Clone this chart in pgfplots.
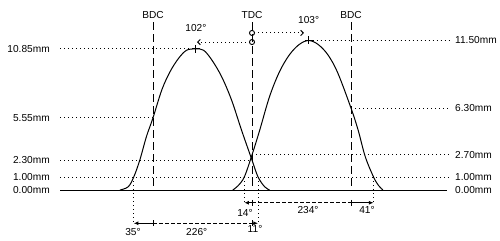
\documentclass[border=0pt]{standalone}
\usepackage{pgfplots}
\pgfplotsset{compat=1.18}
\usepackage{fontspec}
\setmainfont{Liberation Sans}
\usetikzlibrary{arrows.meta}
\begin{document}
\begin{tikzpicture}
\begin{axis}[
  scale only axis, width=375pt, height=180pt,
  xmin=-98.18, xmax=810.91, ymin=-3.846, ymax=14.615,
  hide axis, clip=false,
]
\path (rel axis cs:0,0) rectangle (rel axis cs:1,1);
\tikzset{
  dotl/.style={line width=0.75pt, dash pattern=on 0.75pt off 2.25pt},
  dashl/.style={line width=0.75pt, dash pattern=on 6pt off 3pt},
  diml/.style={line width=0.75pt, dash pattern=on 3pt off 1.5pt},
  lbl/.style={font=\fontsize{7.6}{9}\selectfont, inner sep=0pt},
}
% curves
\addplot[black, line width=0.75pt, smooth, tension=0.55] coordinates {
(120,0) (135,0.25) (145,1.0) (156,2.3) (168,4.1) (180,5.55) (196,7.7) (211,9.1)
(226,10.1) (241,10.75) (258,10.85) (272,10.75) (287,10.0) (305,8.7) (323,6.9)
(341,4.6) (360,2.3) (371,1.0) (383,0.25) (392,0)};
\addplot[black, line width=0.75pt, smooth, tension=0.55] coordinates {
(325,0) (334,0.3) (346,1.0) (360,2.7) (374,4.6) (392,7.2) (410,9.1) (428,10.4)
(446,11.2) (463,11.5) (480,11.2) (498,10.4) (516,9.0) (540,6.3) (553,4.6)
(566,2.55) (581,1.0) (590,0.35) (598,0)};
% peak markers
\addplot[only marks, mark=+, mark size=3pt, black, line width=0.75pt] coordinates {(258,10.85) (463,11.5)};
% circles at TDC
\addplot[only marks, mark=o, mark size=1.9pt, black, line width=0.7pt] coordinates {(360,11.38) (360,12.08)};
% baseline
\draw[line width=0.75pt] (axis cs:11,0) -- (axis cs:715,0);
% horizontal dotted lines
\draw[dotl] (axis cs:11,10.85) -- (axis cs:258,10.85);
\draw[dotl] (axis cs:11,5.55) -- (axis cs:180,5.55);
\draw[dotl] (axis cs:11,2.3) -- (axis cs:360,2.3);
\draw[dotl] (axis cs:11,1) -- (axis cs:720,1);
\draw[dotl] (axis cs:463,11.5) -- (axis cs:720,11.5);
\draw[dotl] (axis cs:540,6.3) -- (axis cs:720,6.3);
\draw[dotl] (axis cs:360,2.7) -- (axis cs:720,2.7);
% dashed verticals
\draw[dashl] (axis cs:180,12.92) -- (axis cs:180,0.3);
\draw[dashl] (axis cs:360,12.92) -- (axis cs:360,0.3);
\draw[dashl] (axis cs:540,12.92) -- (axis cs:540,0.3);
% vertical dotted drops
\draw[dotl] (axis cs:145,1) -- (axis cs:145,-2.56);
\draw[dotl] (axis cs:371,1) -- (axis cs:371,-2.56);
\draw[dotl] (axis cs:346,1) -- (axis cs:346,-0.98);
\draw[dotl] (axis cs:581,1) -- (axis cs:581,-0.98);
% dimension lines
\draw[line width=0.75pt, -{Latex[length=3.5pt,width=3pt]}] (axis cs:360,-0.98) -- (axis cs:346,-0.98);
\draw[diml] (axis cs:360,-0.98) -- (axis cs:540,-0.98);
\draw[line width=0.75pt, -{Latex[length=3.5pt,width=3pt]}] (axis cs:540,-0.98) -- (axis cs:581,-0.98);
\draw[line width=0.75pt, -{Latex[length=3.5pt,width=3pt]}] (axis cs:180,-2.56) -- (axis cs:145,-2.56);
\draw[diml] (axis cs:180,-2.56) -- (axis cs:360,-2.56);
\draw[line width=0.75pt, -{Latex[length=3.5pt,width=3pt]}] (axis cs:360,-2.56) -- (axis cs:371,-2.56);
% ticks on dimension lines
\draw[line width=0.75pt] (axis cs:360,-0.75) -- (axis cs:360,-1.21);
\draw[line width=0.75pt] (axis cs:540,-0.75) -- (axis cs:540,-1.21);
\draw[line width=0.75pt] (axis cs:180,-2.33) -- (axis cs:180,-2.79);
\draw[line width=0.75pt] (axis cs:360,-2.33) -- (axis cs:360,-2.79);
% peak angle arrows
\draw[dotl, -{Straight Barb[length=2pt,width=4pt]}] (axis cs:356,11.38) -- (axis cs:260,11.38);
\draw[dotl, -{Straight Barb[length=2pt,width=4pt]}] (axis cs:364,12.08) -- (axis cs:454.5,12.08);
% labels
\node[lbl] at (axis cs:180,13.46) {BDC};
\node[lbl] at (axis cs:360,13.46) {TDC};
\node[lbl] at (axis cs:540,13.46) {BDC};
\node[lbl] at (axis cs:258,12.46) {102°};
\node[lbl] at (axis cs:463,13.08) {103°};
\node[lbl, anchor=east] at (axis cs:-7.3,10.85) {10.85mm};
\node[lbl, anchor=east] at (axis cs:-7.3,5.55) {5.55mm};
\node[lbl, anchor=east] at (axis cs:-7.3,2.3) {2.30mm};
\node[lbl, anchor=east] at (axis cs:-7.3,1) {1.00mm};
\node[lbl, anchor=east] at (axis cs:-7.3,0) {0.00mm};
\node[lbl, anchor=west] at (axis cs:729,11.5) {11.50mm};
\node[lbl, anchor=west] at (axis cs:729,6.3) {6.30mm};
\node[lbl, anchor=west] at (axis cs:729,2.7) {2.70mm};
\node[lbl, anchor=west] at (axis cs:729,1) {1.00mm};
\node[lbl, anchor=west] at (axis cs:729,0) {0.00mm};
\node[lbl] at (axis cs:347.3,-1.75) {14°};
\node[lbl] at (axis cs:461.8,-1.54) {234°};
\node[lbl] at (axis cs:569,-1.54) {41°};
\node[lbl] at (axis cs:143.6,-3.21) {35°};
\node[lbl] at (axis cs:259.5,-3.21) {226°};
\node[lbl] at (axis cs:365.5,-3.0) {11°};
\end{axis}
\end{tikzpicture}
\end{document}
